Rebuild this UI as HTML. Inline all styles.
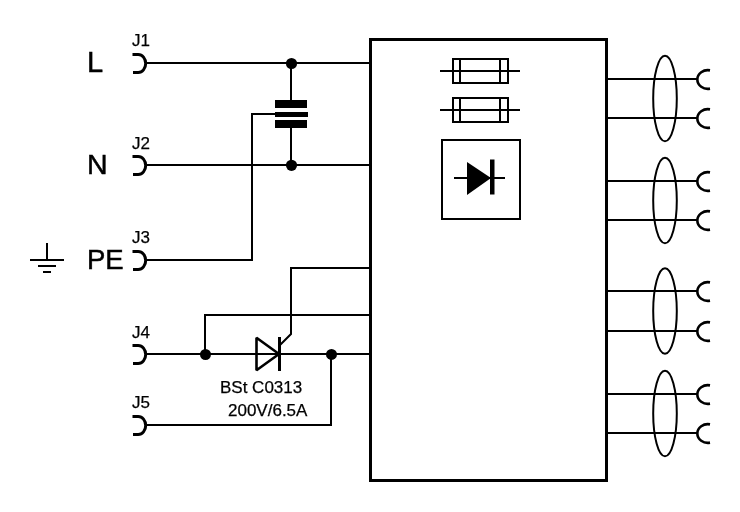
<!DOCTYPE html>
<html><head><meta charset="utf-8">
<style>
html,body{margin:0;padding:0;background:#fff;width:740px;height:512px;overflow:hidden}
svg{display:block;will-change:transform}
text{font-family:"Liberation Sans",sans-serif;fill:#000}
</style></head><body>
<svg width="740" height="512" viewBox="0 0 740 512">
<g fill="none" stroke="#000" stroke-width="2">
  <!-- main box -->
  <rect x="370.5" y="39.5" width="236" height="441" stroke-width="3"/>
  <!-- left wires -->
  <path d="M146 63H369"/>
  <path d="M146 165H369"/>
  <path d="M146 260H252V114H275"/>
  <path d="M146 354H369"/>
  <path d="M146 425H331V354"/>
  <path d="M205 354V315H369"/>
  <!-- capacitor leads -->
  <path d="M291 63V100M291 128V165"/>
  <!-- ground -->
  <path d="M47 243V260M30 260H64M38 266H56M43 272H51"/>
  <!-- SCR -->
  <path d="M256.5 337.8V370.2L279 354Z" stroke-width="2.6" stroke-linejoin="bevel"/>
  <path d="M279.5 337V371" stroke-width="3"/>
  <path d="M369 268H291V334L280 345"/>
  <!-- connectors left -->
  <g stroke-width="3">
  <path d="M132.5 54.5H138.2A7.5 9 0 0 1 138.2 72.5H133"/>
  <path d="M132.5 156.5H138.2A7.5 9 0 0 1 138.2 174.5H133"/>
  <path d="M132.5 251.5H138.2A7.5 9 0 0 1 138.2 269.5H133"/>
  <path d="M132.5 345.5H138.2A7.5 9 0 0 1 138.2 363.5H133"/>
  <path d="M132.5 416.5H138.2A7.5 9 0 0 1 138.2 434.5H133"/>
  </g>
  <!-- right wires -->
  <path d="M608 79H698M608 118H698M608 181H698M608 220H698M608 291H698M608 331H698M608 394H698M608 433H698"/>
  <!-- ellipses -->
  <ellipse cx="665" cy="98.5" rx="11.8" ry="42.8"/>
  <ellipse cx="665" cy="200.5" rx="11.8" ry="42.8"/>
  <ellipse cx="665" cy="311.0" rx="11.8" ry="42.8"/>
  <ellipse cx="665" cy="413.5" rx="11.8" ry="42.8"/>
          <!-- right connectors -->
  <g stroke-width="2.6">
  <path d="M710 70.4A10.5 9.3 0 1 0 710 88.6"/>
  <path d="M710 109.4A10.5 9.3 0 1 0 710 127.6"/>
  <path d="M710 172.4A10.5 9.3 0 1 0 710 190.6"/>
  <path d="M710 211.4A10.5 9.3 0 1 0 710 229.6"/>
  <path d="M710 282.4A10.5 9.3 0 1 0 710 300.6"/>
  <path d="M710 322.4A10.5 9.3 0 1 0 710 340.6"/>
  <path d="M710 385.4A10.5 9.3 0 1 0 710 403.6"/>
  <path d="M710 424.4A10.5 9.3 0 1 0 710 442.6"/>
  </g>
  <!-- fuses -->
  <rect x="453" y="59" width="55" height="24"/>
  <path d="M460 59V83M500 59V83M440 71H520"/>
  <rect x="453" y="98" width="55" height="24"/>
  <path d="M460 98V122M500 98V122M440 110H520"/>
  <!-- diode box -->
  <rect x="442" y="140" width="78" height="79"/>
  <path d="M454 178H505"/>
</g>
<g fill="#000">
  <rect x="275" y="100" width="32" height="8"/>
  <rect x="275" y="112" width="33" height="5"/>
  <rect x="275" y="120" width="32" height="8"/>
  <circle cx="291.5" cy="63.5" r="5.6"/>
  <circle cx="291.5" cy="165.3" r="5.6"/>
  <circle cx="205.5" cy="354.5" r="5.5"/>
  <circle cx="331.5" cy="354.4" r="5.5"/>
  <path d="M467 162L491 178L467 195Z"/>
  <rect x="490" y="159.5" width="4.5" height="35"/>
</g>
<g stroke="#000" stroke-width="0.25">
  <text x="87" y="72" font-size="29" stroke="#000" stroke-width="0.5">L</text>
  <text x="87" y="174.3" font-size="28.5" stroke="#000" stroke-width="0.5">N</text>
  <text x="87" y="268.5" font-size="27.5" stroke="#000" stroke-width="0.5">PE</text>
  <text x="132" y="46" font-size="17">J1</text>
  <text x="132" y="149" font-size="17">J2</text>
  <text x="132" y="243" font-size="17">J3</text>
  <text x="132" y="338" font-size="17">J4</text>
  <text x="132" y="408" font-size="17">J5</text>
  <text x="220" y="393.3" font-size="17">BSt C0313</text>
  <text x="228" y="415.8" font-size="17">200V/6.5A</text>
</g>
</svg>
</body></html>
